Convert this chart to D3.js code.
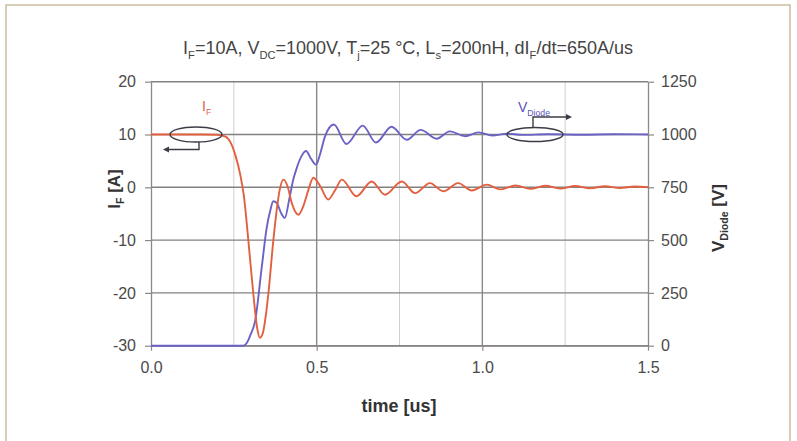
<!DOCTYPE html>
<html>
<head>
<meta charset="utf-8">
<script src="https://cdn.jsdelivr.net/npm/d3@7/dist/d3.min.js"></script>
<style>
  body { margin: 0; background: #fff; }
  svg { display: block; font-family: "Liberation Sans", Arial, sans-serif; }
</style>
</head>
<body>
<svg id="chart"></svg>
<script>
var width = 797;
var height = 441;

// time axis [us]
var timeTicks = [0, 0.5, 1.0, 1.5];
var timeGridMinor = [0.25, 0.75, 1.25];
var currentTicks = [-30, -20, -10, 0, 10, 20];
var voltageTicks = [0, 250, 500, 750, 1000, 1250];

// diode current I_F [A] (time in us)
var iTime = [0, 0.15, 0.2, 0.225, 0.24, 0.255, 0.27, 0.28, 0.294, 0.309, 0.32, 0.329, 0.338, 0.346, 0.354, 0.369, 0.38, 0.389, 0.40, 0.412, 0.425, 0.445, 0.46, 0.475, 0.49, 0.51, 0.535, 0.556, 0.576, 0.62, 0.666, 0.706, 0.757, 0.797, 0.842, 0.882, 0.927, 0.968, 1.013, 1.055, 1.10, 1.145, 1.19, 1.235, 1.28, 1.325, 1.37, 1.415, 1.46, 1.5];
var iF    = [10, 10, 9.95, 9.6, 8.5, 6, 2.2, -1.5, -10.2, -20.3, -26.5, -28.5, -27.5, -24.5, -20.3, -10.2, -4, -0.3, 1.45, 0.2, -3, -5.2, -3.5, -0.5, 1.8, 0.3, -2.3, -0.5, 1.45, -1.7, 1.1, -1.4, 1.1, -1.1, 0.8, -0.75, 0.8, -0.6, 0.5, -0.4, 0.35, -0.3, 0.3, -0.25, 0.25, -0.2, 0.2, -0.15, 0.15, 0];

// diode voltage V_Diode [V]
var vTime = [0, 0.279, 0.29, 0.3, 0.314, 0.334, 0.349, 0.36, 0.369, 0.38, 0.392, 0.404, 0.418, 0.43, 0.44, 0.455, 0.468, 0.483, 0.498, 0.51, 0.525, 0.552, 0.59, 0.639, 0.679, 0.726, 0.772, 0.814, 0.862, 0.902, 0.948, 0.988, 1.03, 1.075, 1.12, 1.2, 1.3, 1.4, 1.5];
var vDiode = [0, 0, 15, 50, 115, 368, 557, 640, 684, 675, 630, 605, 700, 790, 842, 900, 922, 885, 857, 905, 990, 1047, 955, 1042, 962, 1037, 975, 1022, 980, 1015, 992, 1010, 995, 1004, 998, 1001, 999, 1001, 1000];

var svg = d3.select("#chart").attr("width", width).attr("height", height);

// outer frame
svg.append("rect")
    .attr("x", 6).attr("y", 5)
    .attr("width", 784).attr("height", 445)
    .attr("fill", "none")
    .attr("stroke", "#cbbd9f")
    .attr("stroke-width", 1.5);

var x = d3.scaleLinear().domain([0, 1.5]).range([151, 648]);
var yI = d3.scaleLinear().domain([-30, 20]).range([345.7, 81.7]);
var yV = d3.scaleLinear().domain([0, 1250]).range([345.7, 81.7]);

var grid = svg.append("g");

// minor vertical gridlines
grid.selectAll(".vmin").data(timeGridMinor).enter().append("line")
    .attr("x1", function(d) { return x(d); }).attr("x2", function(d) { return x(d); })
    .attr("y1", yI(20)).attr("y2", yI(-30))
    .attr("stroke", "#cfcfcf").attr("stroke-width", 1);

// major vertical gridlines
grid.selectAll(".vmaj").data([0.5, 1.0]).enter().append("line")
    .attr("x1", function(d) { return x(d); }).attr("x2", function(d) { return x(d); })
    .attr("y1", yI(20)).attr("y2", yI(-30))
    .attr("stroke", "#8c8888").attr("stroke-width", 1.4);

// horizontal gridlines
grid.selectAll(".h").data(currentTicks).enter().append("line")
    .attr("x1", x(0)).attr("x2", x(1.5))
    .attr("y1", function(d) { return yI(d); }).attr("y2", function(d) { return yI(d); })
    .attr("stroke", "#858080").attr("stroke-width", 1.4);

// axes
function styleAxis(g) {
    g.select(".domain").attr("stroke", "#8c8888").attr("stroke-width", 1.3);
    g.selectAll(".tick line").attr("stroke", "#8c8888").attr("stroke-width", 1.2);
    g.selectAll(".tick text").attr("fill", "#4a4a4a").style("font-size", "16px");
}
var plain = function(d) { return String(d); };

svg.append("g")
    .attr("transform", "translate(" + x(0) + ",0)")
    .call(d3.axisLeft(yI).tickValues(currentTicks).tickSize(6).tickSizeOuter(0).tickPadding(9).tickFormat(plain))
    .call(styleAxis);

svg.append("g")
    .attr("transform", "translate(" + x(1.5) + ",0)")
    .call(d3.axisRight(yV).tickValues(voltageTicks).tickSize(6).tickSizeOuter(0).tickPadding(7).tickFormat(plain))
    .call(styleAxis);

svg.append("g")
    .attr("transform", "translate(0," + yI(-30) + ")")
    .call(d3.axisBottom(x).tickValues(timeTicks).tickSize(5).tickSizeOuter(0).tickPadding(11).tickFormat(d3.format(".1f")))
    .call(styleAxis);

// curves
var iData = iTime.map(function(t, k) { return [t, iF[k]]; });
var vData = vTime.map(function(t, k) { return [t, vDiode[k]]; });

var iLine = d3.line().x(function(d) { return x(d[0]); }).y(function(d) { return yI(d[1]); }).curve(d3.curveMonotoneX);
var vLine = d3.line().x(function(d) { return x(d[0]); }).y(function(d) { return yV(d[1]); }).curve(d3.curveMonotoneX);

svg.append("path").datum(vData).attr("d", vLine)
    .attr("fill", "none").attr("stroke", "#6a62c4").attr("stroke-width", 1.9);
svg.append("path").datum(iData).attr("d", iLine)
    .attr("fill", "none").attr("stroke", "#e2603f").attr("stroke-width", 1.9);

// text with subscripts: the shift of a subscript is undone on the next part
function richText(parent, parts, size) {
    var shift = 0;
    parts.forEach(function(p) {
        var t = parent.append("tspan").text(p[0]);
        if (p[1]) {
            t.style("font-size", (size * 0.62) + "px").attr("dy", size * 0.25 - shift);
            shift = size * 0.25;
        } else {
            if (shift) t.attr("dy", -shift);
            shift = 0;
        }
    });
}

var title = svg.append("text")
    .attr("x", 408).attr("y", 54)
    .attr("text-anchor", "middle")
    .attr("fill", "#444")
    .style("font-size", "18px");
richText(title, [["I"], ["F", 1], ["=10A, V"], ["DC", 1], ["=1000V, T"], ["j", 1], ["=25 °C, L"], ["s", 1], ["=200nH, dI"], ["F", 1], ["/dt=650A/us"]], 18);

svg.append("text")
    .attr("x", 399).attr("y", 412)
    .attr("text-anchor", "middle")
    .attr("fill", "#333")
    .style("font-size", "18px").style("font-weight", "bold")
    .text("time [us]");

var leftTitle = svg.append("text")
    .attr("transform", "translate(120,189) rotate(-90)")
    .attr("text-anchor", "middle")
    .attr("fill", "#333")
    .style("font-size", "17px").style("font-weight", "bold");
richText(leftTitle, [["I"], ["F", 1], [" [A]"]], 17);

var rightTitle = svg.append("text")
    .attr("transform", "translate(724,218) rotate(-90)")
    .attr("text-anchor", "middle")
    .attr("fill", "#333")
    .style("font-size", "17px").style("font-weight", "bold");
richText(rightTitle, [["V"], ["Diode", 1], [" [V]"]], 17);

// annotation: I_F marker
var ann = svg.append("g").attr("fill", "none").attr("stroke", "#3c3c46").attr("stroke-width", 1.4);
ann.append("ellipse").attr("cx", 196).attr("cy", yI(10)).attr("rx", 26).attr("ry", 7.5);
ann.append("path").attr("d", "M199," + (yI(10) + 7.5) + "V149.5H165");
svg.append("path").attr("d", "M163,149.5l6,-3v6z").attr("fill", "#3c3c46");

var iLabel = svg.append("text").attr("x", 202).attr("y", 111)
    .attr("fill", "#e2603f").style("font-size", "14px");
richText(iLabel, [["I"], ["F", 1]], 14);

// annotation: V_Diode marker
ann.append("ellipse").attr("cx", 535).attr("cy", yV(1000)).attr("rx", 28).attr("ry", 7);
ann.append("path").attr("d", "M533," + (yV(1000) - 7) + "V117H569");
svg.append("path").attr("d", "M572,117l-6,-3v6z").attr("fill", "#3c3c46");

var vLabel = svg.append("text").attr("x", 518).attr("y", 112)
    .attr("fill", "#5a52b8").style("font-size", "14px");
richText(vLabel, [["V"], ["Diode", 1]], 14);
</script>
</body>
</html>
